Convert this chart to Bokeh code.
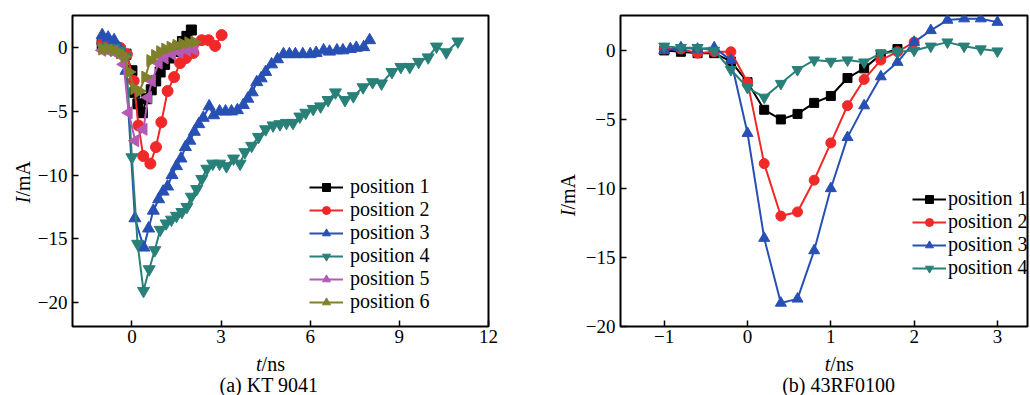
import math
from bokeh.plotting import figure
from bokeh.layouts import row, column
from bokeh.models import Range1d, FixedTicker, Label
from bokeh.embed import file_html
from bokeh.resources import INLINE

# ---------------- data: panel (a) KT 9041 ----------------
t1_a = [-1.0, -0.8, -0.6, -0.4, -0.2, 0.0, 0.1, 0.2, 0.35, 0.5, 0.65, 0.8, 0.95, 1.1, 1.25, 1.4, 1.55, 1.7, 1.85, 2.0]
i1_a = [0.3, 0.2, 0.1, -0.2, -0.5, -1.8, -3.5, -4.4, -5.1, -4.0, -3.3, -2.6, -1.9, -1.3, -0.8, -0.3, 0.1, 0.5, 0.9, 1.4]

t2_a = [-1.0, -0.8, -0.6, -0.4, -0.17, 0.06, 0.22, 0.38, 0.62, 0.81, 0.99, 1.2, 1.42, 1.62, 1.82, 2.07, 2.35, 2.58, 2.8, 3.02]
i2_a = [0.4, 0.3, 0.2, 0.0, -0.5, -2.6, -6.1, -8.5, -9.1, -7.8, -5.85, -3.4, -2.3, -1.2, -0.8, -0.4, 0.6, 0.6, 0.15, 1.0]

t3_a = [-1.0, -0.8, -0.6, -0.4, -0.2, 0.1, 0.4, 0.56, 0.72, 0.9, 1.05, 1.2, 1.35, 1.5, 1.65, 1.8, 1.95, 2.1,
        2.25, 2.4, 2.6, 2.75, 2.95, 3.15, 3.35, 3.55, 3.75, 3.9, 4.05, 4.2, 4.35, 4.5, 4.7, 4.9, 5.1, 5.3,
        5.5, 5.75, 6.0, 6.2, 6.45, 6.65, 6.9, 7.1, 7.35, 7.55, 7.8, 8.0]
i3_a = [1.0, 0.8, 0.6, -0.1, -1.8, -13.4, -15.7, -14.2, -12.8, -11.9, -11.3, -10.9, -10.0, -9.3, -8.7, -7.8,
        -7.3, -6.6, -6.0, -5.5, -4.6, -5.3, -5.0, -5.0, -5.0, -4.9, -4.5, -4.0, -3.5, -2.7, -2.4, -1.9, -1.3,
        -0.9, -0.5, -0.5, -0.5, -0.5, -0.5, -0.4, -0.2, -0.3, -0.2, -0.2, -0.1, 0.0, 0.05, 0.6]

t4_a = [-1.0, -0.8, -0.6, -0.4, -0.2, 0.0, 0.19, 0.39, 0.58, 0.77, 0.95, 1.15, 1.33, 1.5, 1.68, 1.85, 2.0,
        2.18, 2.35, 2.52, 2.72, 2.95, 3.18, 3.42, 3.64, 3.8, 4.03, 4.26, 4.5, 4.75, 4.98, 5.2, 5.42, 5.65,
        5.85, 6.1, 6.35, 6.6, 6.85, 7.17, 7.45, 7.78, 8.1, 8.4, 8.75, 9.05, 9.35, 9.65, 9.97, 10.25, 10.58, 10.97]
i4_a = [0.1, 0.0, 0.0, -0.2, -0.7, -8.6, -15.4, -19.1, -17.4, -15.9, -14.3, -13.8, -13.5, -13.2, -12.9, -12.5,
        -11.7, -11.1, -10.3, -9.5, -9.1, -9.1, -9.3, -8.7, -9.1, -8.2, -7.7, -7.0, -6.4, -6.1, -6.0, -5.9, -5.9,
        -5.4, -5.1, -4.8, -4.6, -4.1, -3.5, -4.1, -3.8, -3.1, -2.7, -2.8, -1.9, -1.5, -1.5, -1.1, -0.75, 0.1,
        -0.35, 0.5]

t5_a = [-1.0, -0.8, -0.6, -0.4, -0.28, -0.11, 0.11, 0.39, 0.54, 0.67, 0.9, 1.1, 1.35, 1.6, 1.85, 2.1]
i5_a = [-0.2, -0.2, -0.3, -0.6, -1.3, -5.1, -7.3, -6.4, -3.9, -2.6, -1.2, -0.8, -0.5, -0.35, -0.2, -0.15]

t6_a = [-1.0, -0.8, -0.6, -0.4, -0.25, -0.1, 0.08, 0.25, 0.45, 0.62, 0.78, 0.95, 1.12, 1.3, 1.5, 1.7, 1.9, 2.1]
i6_a = [-0.1, -0.1, -0.2, -0.4, -0.7, -1.9, -3.2, -3.4, -2.3, -1.0, -0.6, -0.3, -0.1, 0.05, 0.2, 0.3, 0.4, 0.45]

# ---------------- data: panel (b) 43RF0100 ----------------
t1_b = [-1.0, -0.8, -0.6, -0.4, -0.2, 0.0, 0.2, 0.4, 0.6, 0.8, 1.0, 1.2, 1.4, 1.6, 1.8]
i1_b = [0.0, -0.1, -0.2, -0.2, -0.8, -2.3, -4.3, -5.0, -4.6, -3.8, -3.3, -2.0, -1.3, -0.3, 0.1]

t2_b = [-1.0, -0.8, -0.6, -0.4, -0.2, 0.0, 0.2, 0.4, 0.6, 0.8, 1.0, 1.2, 1.4, 1.6, 1.8, 2.0]
i2_b = [0.1, 0.1, -0.2, -0.1, -0.1, -2.3, -8.2, -12.0, -11.7, -9.4, -6.7, -4.0, -2.1, -0.7, -0.1, 0.6]

t3_b = [-1.0, -0.8, -0.6, -0.4, -0.2, 0.0, 0.2, 0.4, 0.6, 0.8, 1.0, 1.2, 1.4, 1.6, 1.8, 2.0, 2.2, 2.4, 2.6, 2.8, 3.0]
i3_b = [0.0, 0.2, 0.1, 0.2, -0.7, -6.0, -13.6, -18.3, -18.0, -14.5, -10.0, -6.3, -4.0, -1.9, -0.85, 0.6, 1.45,
        2.2, 2.3, 2.3, 2.05]

t4_b = [-1.0, -0.8, -0.6, -0.4, -0.2, 0.0, 0.2, 0.4, 0.6, 0.8, 1.0, 1.2, 1.4, 1.6, 1.8, 2.0, 2.2, 2.4, 2.6, 2.8, 3.0]
i4_b = [0.3, 0.2, 0.2, 0.0, -1.4, -2.7, -3.4, -2.4, -1.4, -0.7, -0.8, -0.7, -0.85, -0.2, -0.1, 0.0, 0.3, 0.6,
        0.3, 0.1, -0.05]

labels_a = ["position 1", "position 2", "position 3", "position 4", "position 5", "position 6"]
labels_b = ["position 1", "position 2", "position 3", "position 4"]
ticks_x_a = [0, 3, 6, 9, 12]
ticks_x_b = [-1, 0, 1, 2, 3]
ticks_y = [-20, -15, -10, -5, 0]

COLORS = ["#000000", "#f02828", "#2850b4", "#288078", "#b45ab4", "#80802a"]
MARKERS = [("square", 0.0), ("circle", 0.0), ("triangle", 0.0), ("inverted_triangle", 0.0),
           ("triangle", math.pi / 2), ("triangle", -math.pi / 2)]
FONT = "Liberation Serif"
TICK_FS = "19px"
LAB_FS = "20px"
H_TOTAL = 395
FRAME_TOP = 15
FRAME_H = 311
MAIN_H = 352
CAP_H = H_TOTAL - MAIN_H


def fmt(v):
    return "\u2212" + str(-v) if v < 0 else str(v)


def make_fig(width, left, right, xr, yr, xticks):
    p = figure(width=width, height=MAIN_H, x_range=Range1d(*xr), y_range=Range1d(*yr),
               output_backend="svg", toolbar_location=None,
               min_border_left=left, min_border_right=right,
               min_border_top=FRAME_TOP, min_border_bottom=MAIN_H - FRAME_TOP - FRAME_H)
    p.grid.visible = False
    p.outline_line_color = "black"
    p.outline_line_width = 2
    p.background_fill_color = "white"
    p.border_fill_color = "white"
    for ax in (p.xaxis[0], p.yaxis[0]):
        ax.axis_line_color = None
        ax.major_tick_in = 6
        ax.major_tick_out = 0
        ax.major_tick_line_width = 1.5
        ax.minor_tick_line_color = None
        ax.major_label_text_font = FONT
        ax.major_label_text_font_size = TICK_FS
        ax.major_label_text_color = "black"
    p.xaxis[0].ticker = FixedTicker(ticks=xticks)
    p.yaxis[0].ticker = FixedTicker(ticks=ticks_y)
    p.xaxis[0].major_label_standoff = 3
    p.yaxis[0].major_label_standoff = 5
    p.yaxis[0].major_label_overrides = {v: fmt(v) for v in ticks_y}
    p.xaxis[0].major_label_overrides = {v: fmt(v) for v in xticks}
    return p


def text_fig(width, height):
    f = figure(width=width, height=height, x_range=Range1d(0, width), y_range=Range1d(0, height),
               output_backend="svg", toolbar_location=None, x_axis_location=None, y_axis_location=None,
               min_border=0)
    f.min_border_left = f.min_border_right = f.min_border_top = f.min_border_bottom = 0
    f.grid.visible = False
    f.outline_line_color = None
    f.background_fill_color = "white"
    f.border_fill_color = "white"
    return f


COMMON = dict(text_font=FONT, text_font_size=LAB_FS, text_color="black")


def add_series(p, xs, ys, color, marker, angle, label, size, lw=2):
    p.line(xs, ys, line_color=color, line_width=lw, legend_label=label)
    p.scatter(xs, ys, marker=marker, angle=angle, size=size, fill_color=color, line_color=color,
              legend_label=label)


def caption_fig(width, xcen, caption):
    f = text_fig(width, CAP_H)
    split = xcen - 9
    f.add_layout(Label(x=split, y=CAP_H - 11, text="t", text_font_style="italic",
                       text_align="right", text_baseline="middle", **COMMON))
    f.add_layout(Label(x=split, y=CAP_H - 11, text="/ns",
                       text_align="left", text_baseline="middle", **COMMON))
    f.add_layout(Label(x=xcen, y=11, text=caption,
                       text_align="center", text_baseline="middle", **COMMON))
    return f


def ylabel_fig(width, xc, ysplit):
    f = text_fig(width, H_TOTAL)
    f.add_layout(Label(x=xc, y=ysplit, text="I", text_font_style="italic", angle=math.pi / 2,
                       text_align="right", text_baseline="middle", **COMMON))
    f.add_layout(Label(x=xc, y=ysplit, text="/mA", angle=math.pi / 2,
                       text_align="left", text_baseline="middle", **COMMON))
    return f


def style_legend(p, loc, standoff):
    lg = p.legend[0]
    lg.location = loc
    lg.border_line_color = None
    lg.background_fill_alpha = 0
    lg.padding = 0
    lg.margin = 0
    lg.spacing = 0
    lg.glyph_height = 20
    lg.glyph_width = 34
    lg.label_height = 20
    lg.label_standoff = standoff
    lg.label_text_font = FONT
    lg.label_text_font_size = "20px"
    lg.label_text_color = "black"


# ---------------- panel (a) ----------------
xr_a = (-2.0, 12.0)
yr_a = (-21.9, 2.54)
pa = make_fig(506, 36, 52, xr_a, yr_a, ticks_x_a)
series_a = [(t1_a, i1_a), (t2_a, i2_a), (t3_a, i3_a), (t4_a, i4_a), (t5_a, i5_a), (t6_a, i6_a)]
sizes_a = [10, 11, 12, 12, 12, 12]
for k, (xs, ys) in enumerate(series_a):
    add_series(pa, xs, ys, COLORS[k], MARKERS[k][0], MARKERS[k][1], labels_a[k], sizes_a[k])
style_legend(pa, (237, 13), 7)
cap_a = caption_fig(506, 273 - 34, "(a) KT 9041")
ylab_a = ylabel_fig(34, 22, H_TOTAL - 196)

# ---------------- panel (b) ----------------
xr_b = (-1.525, 3.361)
yr_b = (-20.0, 2.53)
pb = make_fig(448, 38, 3, xr_b, yr_b, ticks_x_b)
series_b = [(t1_b, i1_b), (t2_b, i2_b), (t3_b, i3_b), (t4_b, i4_b)]
sizes_b = [9, 10, 11, 11]
for k, (xs, ys) in enumerate(series_b):
    add_series(pb, xs, ys, COLORS[k], MARKERS[k][0], MARKERS[k][1], labels_b[k], sizes_b[k])
style_legend(pb, (292, 47), 2)
cap_b = caption_fig(448, 822 - 582, "(b) 43RF0100")
ylab_b = ylabel_fig(42, 567 - 540, H_TOTAL - 209)

layout = row(ylab_a, column(pa, cap_a), ylab_b, column(pb, cap_b))
open("out.html", "w").write(file_html(layout, INLINE))
